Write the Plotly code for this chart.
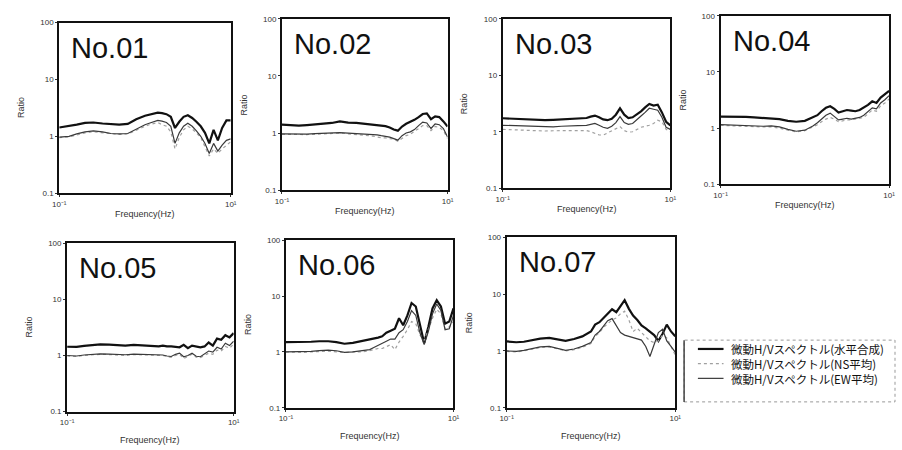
import plotly.graph_objects as go

# Frequency grid (Hz), shared by all panels
FREQ = [0.10, 0.13, 0.16, 0.20, 0.25, 0.32, 0.40, 0.50, 0.63, 0.79, 1.00,
        1.12, 1.26, 1.41, 1.58, 1.78, 2.00, 2.24, 2.51, 2.82, 3.16, 3.55,
        3.98, 4.47, 5.01, 5.62, 6.31, 7.08, 7.94, 8.91, 10.0]

PANEL_NAMES = ["No.01", "No.02", "No.03", "No.04", "No.05", "No.06", "No.07"]
SERIES_NAMES = ["微動H/Vスペクトル(水平合成)", "微動H/Vスペクトル(NS平均)", "微動H/Vスペクトル(EW平均)"]

Y_TICKS = [0.1, 1, 10, 100]
Y_TICK_LABELS = ["0.1", "1", "10", "100"]
X_TICKS = [0.1, 10]
X_TICK_LABELS = ["10⁻¹", "10¹"]

HV_01 = [1.43,1.5,1.6,1.72,1.75,1.68,1.62,1.6,1.65,2.0,2.3,2.4,2.5,2.6,2.55,2.45,2.2,1.4,1.8,2.2,2.35,2.1,1.8,1.5,1.15,0.75,1.3,0.85,1.4,1.9,1.9]
NS_01 = [0.95,0.98,1.05,1.15,1.2,1.15,1.1,1.08,1.1,1.3,1.5,1.6,1.7,1.75,1.6,1.5,1.2,0.6,0.95,1.3,1.5,1.35,1.15,0.95,0.65,0.45,0.6,0.5,0.6,0.7,0.8]
EW_01 = [0.97,1.0,1.1,1.2,1.25,1.2,1.12,1.1,1.12,1.35,1.6,1.7,1.8,1.9,1.85,1.75,1.5,0.75,1.15,1.5,1.7,1.5,1.25,1.0,0.75,0.5,0.75,0.55,0.7,0.85,0.9]

HV_02 = [1.4,1.38,1.35,1.38,1.42,1.45,1.5,1.6,1.52,1.5,1.45,1.42,1.4,1.38,1.35,1.32,1.25,1.15,1.1,1.3,1.45,1.55,1.7,1.9,2.15,2.2,1.75,1.95,1.9,1.6,1.3]
NS_02 = [0.95,0.94,0.93,0.94,0.95,0.97,0.98,1.0,0.97,0.95,0.93,0.9,0.88,0.85,0.83,0.82,0.8,0.78,0.72,0.82,0.9,0.95,1.05,1.2,1.35,1.35,1.1,1.3,1.25,1.1,0.8]
EW_02 = [0.97,0.97,0.95,0.96,0.98,1.0,1.0,1.02,1.0,0.98,0.96,0.95,0.95,0.93,0.9,0.88,0.85,0.8,0.75,0.9,1.0,1.05,1.15,1.35,1.55,1.5,1.2,1.45,1.4,1.2,0.85]

HV_03 = [1.73,1.7,1.65,1.65,1.62,1.6,1.62,1.65,1.65,1.68,1.75,1.85,1.93,1.8,1.65,1.6,1.7,2.0,2.6,2.0,1.75,1.8,2.0,2.3,2.7,3.1,2.9,3.0,2.2,1.5,1.3]
NS_03 = [1.1,1.08,1.06,1.05,1.04,1.03,1.04,1.05,1.05,1.05,1.05,1.0,0.95,0.88,0.87,0.95,1.05,1.15,1.23,1.05,0.98,1.0,1.1,1.2,1.25,1.3,1.4,1.6,1.5,1.1,1.0]
EW_03 = [1.3,1.28,1.25,1.25,1.22,1.2,1.22,1.25,1.25,1.28,1.3,1.35,1.4,1.3,1.2,1.15,1.25,1.45,1.85,1.45,1.35,1.4,1.6,1.9,2.2,2.6,2.5,2.4,1.8,1.2,1.1]

HV_04 = [1.6,1.6,1.6,1.58,1.55,1.52,1.5,1.45,1.35,1.3,1.35,1.45,1.55,1.7,2.0,2.3,2.45,2.2,1.9,2.0,2.1,2.05,2.0,2.1,2.3,2.6,3.0,2.8,3.5,4.0,4.6]
NS_04 = [1.12,1.1,1.1,1.08,1.06,1.05,1.05,1.0,0.92,0.86,0.9,0.98,1.05,1.15,1.3,1.45,1.55,1.45,1.3,1.35,1.4,1.4,1.45,1.5,1.55,1.8,2.1,2.0,2.5,2.8,3.3]
EW_04 = [1.15,1.13,1.12,1.1,1.08,1.08,1.1,1.05,0.95,0.88,0.92,1.0,1.1,1.25,1.45,1.7,1.85,1.6,1.4,1.45,1.5,1.45,1.5,1.55,1.7,2.0,2.3,2.2,2.8,3.2,3.8]

HV_05 = [1.43,1.42,1.48,1.55,1.58,1.56,1.52,1.5,1.55,1.52,1.5,1.48,1.45,1.5,1.45,1.45,1.42,1.4,1.55,1.35,1.5,1.45,1.4,1.45,1.7,1.5,2.0,1.9,2.3,2.1,2.5]
NS_05 = [0.98,0.96,1.0,1.03,1.05,1.04,1.02,1.0,1.04,1.03,1.02,1.0,0.98,1.0,0.96,0.93,1.0,1.05,0.88,0.95,1.05,0.93,0.92,1.0,1.1,1.05,1.25,1.2,1.45,1.35,1.6]
EW_05 = [1.0,0.98,1.02,1.05,1.07,1.06,1.04,1.03,1.06,1.05,1.04,1.02,1.0,1.02,0.98,0.96,1.05,1.1,0.95,1.0,1.1,0.97,0.95,1.05,1.2,1.15,1.4,1.3,1.65,1.5,1.8]

HV_06 = [1.5,1.5,1.5,1.52,1.55,1.55,1.5,1.4,1.45,1.55,1.65,1.7,1.8,1.9,2.2,2.4,2.6,4.0,3.0,4.5,7.5,6.5,3.0,1.45,2.8,6.0,8.4,6.5,3.2,3.5,6.0]
NS_06 = [1.0,0.98,0.98,1.0,1.02,1.03,1.0,0.97,1.0,1.0,1.05,1.1,1.15,1.15,1.25,1.35,1.1,1.5,1.9,2.5,3.5,3.2,2.0,1.6,2.5,4.0,5.8,4.8,2.6,2.8,3.5]
EW_06 = [1.0,1.0,1.0,1.02,1.05,1.08,1.05,0.98,1.0,1.05,1.1,1.2,1.3,1.4,1.55,1.7,1.7,2.2,2.5,3.5,5.5,4.5,2.2,1.35,2.3,4.8,7.2,5.5,2.5,2.6,4.5]

HV_07 = [1.47,1.42,1.45,1.55,1.65,1.7,1.6,1.5,1.62,1.8,2.2,2.9,3.2,3.8,4.5,5.4,4.8,6.0,7.8,5.5,4.2,3.5,2.8,2.5,2.2,1.9,1.5,2.0,2.9,2.2,1.8]
NS_07 = [0.98,0.96,1.0,1.08,1.15,1.18,1.08,1.0,1.05,1.15,1.35,1.8,2.1,2.6,3.0,3.5,3.8,4.5,5.0,3.5,2.2,2.5,2.1,1.8,1.5,1.4,1.5,1.9,1.7,1.2,0.85]
EW_07 = [1.0,0.98,1.02,1.1,1.18,1.2,1.1,1.02,1.08,1.2,1.4,1.9,2.2,2.8,3.4,3.7,2.8,2.1,1.9,1.8,1.7,1.65,1.55,1.2,0.8,1.3,2.1,2.4,1.5,1.2,0.95]

PANELS = [
    (HV_01, NS_01, EW_01), (HV_02, NS_02, EW_02), (HV_03, NS_03, EW_03),
    (HV_04, NS_04, EW_04), (HV_05, NS_05, EW_05), (HV_06, NS_06, EW_06),
    (HV_07, NS_07, EW_07),
]

W, H = 902, 450
# plot boxes in pixels: (left, top, right, bottom)
BOXES = [(53, 19, 227, 193), (279, 15, 447, 190), (503, 15, 673, 188), (724, 12, 895, 184),
         (61, 244, 230, 416), (283, 241, 453, 412), (507, 238, 678, 412)]
STYLES = [dict(color="#111111", width=2.2),
          dict(color="#a0a0a0", width=1.2, dash="dot"),
          dict(color="#3a3a3a", width=1.2)]

FONT = "Liberation Sans, Arial, sans-serif"
fig = go.Figure()
annotations = []
shapes = []
tickfont = dict(family=FONT, size=8, color="#333333")
for i, (data, box, name) in enumerate(zip(PANELS, BOXES, PANEL_NAMES)):
    n = i + 1
    xa = "x" if n == 1 else f"x{n}"
    ya = "y" if n == 1 else f"y{n}"
    for vals, sname, st in zip(data, SERIES_NAMES, STYLES):
        fig.add_trace(go.Scatter(x=FREQ, y=vals, mode="lines", line=st, name=sname,
                                 showlegend=False, xaxis=xa, yaxis=ya, hoverinfo="skip"))
    l, t, r, b = box
    axbase = dict(showline=True, linecolor="#111111", linewidth=2, mirror=True, showgrid=False,
                  zeroline=False, type="log", ticks="outside", ticklen=2, tickcolor="#333",
                  tickfont=tickfont)
    fig.layout[f"xaxis{'' if n == 1 else n}"] = dict(
        axbase, domain=[l / W, r / W], range=[-1, 1], anchor=ya,
        tickvals=X_TICKS, ticktext=X_TICK_LABELS)
    fig.layout[f"yaxis{'' if n == 1 else n}"] = dict(
        axbase, domain=[1 - b / H, 1 - t / H], range=[-1, 2], anchor=xa,
        tickvals=Y_TICKS, ticktext=Y_TICK_LABELS)
    dref_x = f"{xa} domain"
    dref_y = f"{ya} domain"
    annotations.append(dict(text=name, xref=dref_x, yref=dref_y, x=0, y=1, xanchor="left",
                            yanchor="top", xshift=10, yshift=-7, showarrow=False,
                            font=dict(family=FONT, size=29, color="#111")))
    annotations.append(dict(text="Ratio", xref=dref_x, yref=dref_y, x=0, y=0.5, xshift=-38,
                            xanchor="center", yanchor="middle",
                            textangle=-90, showarrow=False,
                            font=dict(family=FONT, size=9, color="#333")))
    annotations.append(dict(text="Frequency(Hz)", xref=dref_x, yref=dref_y, x=0.5, y=0,
                            yanchor="middle", yshift=(-21 if n <= 4 else -28), showarrow=False,
                            font=dict(family=FONT, size=9, color="#333")))

# legend (drawn manually to match the compact layout of the original)
LEG_BOX = (687, 343, 902, 406)
LEG_ROWS = [352, 367, 382]
shapes.append(dict(type="rect", xref="paper", yref="paper",
                   x0=LEG_BOX[0] / W, x1=(LEG_BOX[2] - 1) / W,
                   y0=1 - LEG_BOX[3] / H, y1=1 - LEG_BOX[1] / H,
                   line=dict(color="#999", width=1, dash="dot"), fillcolor="white", layer="below"))
shapes.append(dict(type="line", xref="paper", yref="paper",
                   x0=LEG_BOX[0] / W, x1=LEG_BOX[0] / W,
                   y0=1 - LEG_BOX[3] / H, y1=1 - LEG_BOX[1] / H,
                   line=dict(color="#444", width=1.5)))
for st, yrow in zip(STYLES, LEG_ROWS):
    shapes.append(dict(type="line", xref="paper", yref="paper",
                       x0=701 / W, x1=727 / W, y0=1 - yrow / H, y1=1 - yrow / H,
                       line=st))
annotations.append(dict(text="<br>".join(SERIES_NAMES), xref="paper", yref="paper",
                        x=733 / W, y=1 - LEG_ROWS[1] / H, xanchor="left", yanchor="middle",
                        align="left", showarrow=False,
                        font=dict(family="Noto Sans CJK JP, sans-serif", size=11.5, color="#111")))

fig.update_layout(
    width=W, height=H, margin=dict(l=0, r=0, t=0, b=0),
    paper_bgcolor="white", plot_bgcolor="white",
    annotations=annotations, shapes=shapes, showlegend=False,
)
fig.write_html("out.html", config={"displayModeBar": False},
               post_script="document.body.style.margin='0';document.body.style.overflow='hidden';")
